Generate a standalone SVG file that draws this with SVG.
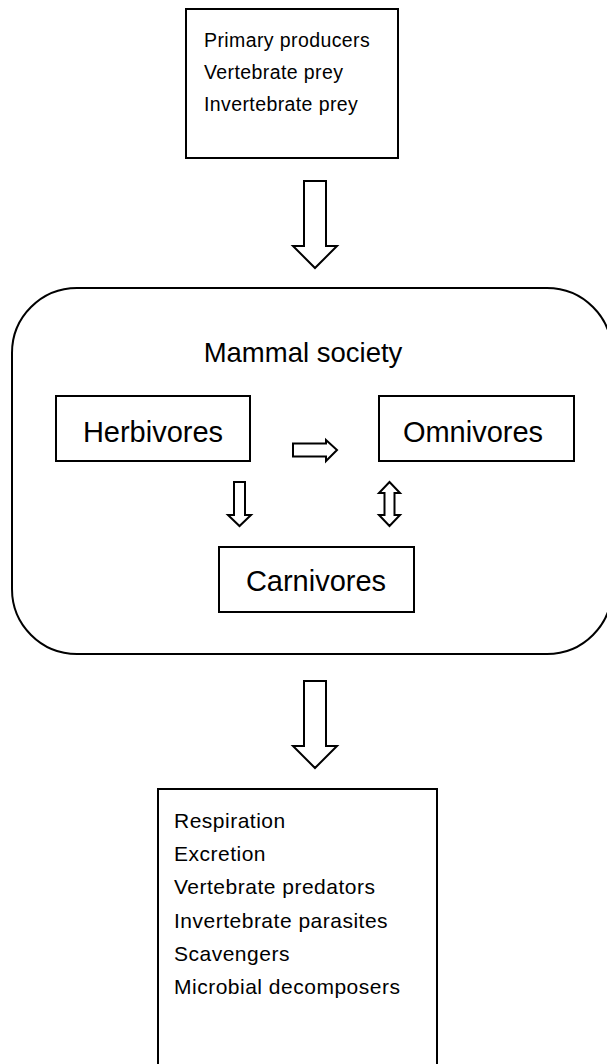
<svg xmlns="http://www.w3.org/2000/svg" width="607" height="1064" viewBox="0 0 607 1064">
<style>
.box{fill:#fff;stroke:#000;stroke-width:2}
.arrow{fill:#fff;stroke:#000;stroke-width:2;stroke-linejoin:miter}
.sm{font-family:"Liberation Sans",Arial,sans-serif;font-size:19.5px;letter-spacing:0.4px;fill:#000}
.sm2{font-family:"Liberation Sans",Arial,sans-serif;font-size:21px;letter-spacing:0.5px;fill:#000}
.lg{font-family:"Liberation Sans",Arial,sans-serif;font-size:29px;fill:#000}
.title{font-family:"Liberation Sans",Arial,sans-serif;font-size:27.5px;fill:#000}
</style>
<rect width="607" height="1064" fill="#fff"/>
<g id="sources">
<rect class="box" x="186" y="9" width="212" height="149"/>
<text class="sm" x="204" y="47">Primary producers</text>
<text class="sm" x="204" y="79">Vertebrate prey</text>
<text class="sm" x="204" y="111">Invertebrate prey</text>
</g>
<g id="society">
<rect x="12" y="288" width="600" height="366" rx="65" ry="65" fill="none" stroke="#000" stroke-width="2"/>
<text class="title" x="303" y="362" text-anchor="middle">Mammal society</text>
</g>
<g id="herbivores">
<rect class="box" x="56" y="396" width="194" height="65"/>
<text class="lg" x="153" y="442" text-anchor="middle">Herbivores</text>
</g>
<g id="omnivores">
<rect class="box" x="379" y="396" width="195" height="65"/>
<text class="lg" x="473" y="442" text-anchor="middle">Omnivores</text>
</g>
<g id="carnivores">
<rect class="box" x="219" y="547" width="195" height="65"/>
<text class="lg" x="316" y="591" text-anchor="middle">Carnivores</text>
</g>
<g id="sinks">
<rect class="box" x="158" y="789" width="279" height="290"/>
<text class="sm2" x="174" y="828">Respiration</text>
<text class="sm2" x="174" y="861">Excretion</text>
<text class="sm2" x="174" y="894">Vertebrate predators</text>
<text class="sm2" x="174" y="928">Invertebrate parasites</text>
<text class="sm2" x="174" y="961">Scavengers</text>
<text class="sm2" x="174" y="994">Microbial decomposers</text>
</g>
<g id="connectors">
<path class="arrow" d="M304,181 H326 V246 H337 L315,268 L293,246 H304 Z"/>
<path class="arrow" d="M304,681 H326 V746 H337 L315,768 L293,746 H304 Z"/>
<path class="arrow" d="M293,443.5 H326 V440 L337,450 L326,461 V456.5 H293 Z"/>
<path class="arrow" d="M234,482 H245 V515 H251 L239.5,526 L228,515 H234 Z"/>
<path class="arrow" d="M389.5,482 L400,493 H394.5 V515 H400 L389.5,526 L379,515 H384.5 V493 H379 Z"/>
</g>
</svg>
